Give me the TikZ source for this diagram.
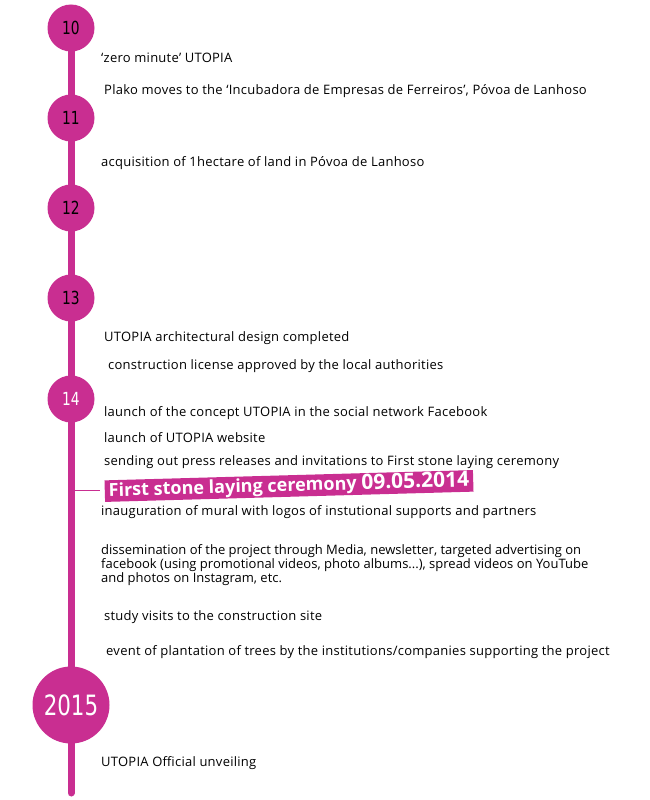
\documentclass[tikz,border=0pt]{standalone}
\usepackage{fontspec}
\setmainfont{Open Sans}
\newfontfamily\yearfont[FakeStretch=0.85]{DejaVu Sans Condensed}
\usepackage{tikz}
\usetikzlibrary{positioning}
\definecolor{utopink}{HTML}{C92E91}
\tikzset{
  yr/.style={circle,fill=utopink,minimum size=47pt,inner sep=0pt,
    font=\yearfont\fontsize{18}{18}\selectfont},
  ev/.style={anchor=west,inner sep=0pt,align=left,
    font=\fontsize{13}{14}\selectfont\addfontfeature{LetterSpace=2}}
}

\begin{document}
\begin{tikzpicture}[x=1pt,y=-1pt]
\useasboundingbox (0,0) rectangle (650,800);
\coordinate (top) at (71,28);
\coordinate (bot) at (71,793);
\coordinate (tick) at (75,490);
\draw[utopink,line width=7pt,line cap=round] (top) -- (bot);
\node[yr] (y10) at (71,28) {10};
\node[yr] (y11) at (71,118) {11};
\node[yr] (y12) at (71,208) {12};
\node[yr] (y13) at (71,298) {13};
\node[yr,text=white] (y14) at (71,399) {14};
\node[yr,text=white,minimum size=77pt,font=\yearfont\fontsize{28}{28}\selectfont] (y15) at (71,705) {2015};
\node[ev] (e1) at (101,58) {‘zero minute’ UTOPIA};
\node[ev] (e2) at (104,91) {Plako moves to the ‘Incubadora de Empresas de Ferreiros’, Póvoa de Lanhoso};
\node[ev] (e3) at (101,163) {acquisition of 1hectare of land in Póvoa de Lanhoso};
\node[ev] (e4) at (104,338) {UTOPIA architectural design completed};
\node[ev] (e5) at (108,366) {construction license approved by the local authorities};
\node[ev] (e6) at (104,413) {launch of the concept UTOPIA in the social network Facebook};
\node[ev] (e7) at (104,438) {launch of UTOPIA website};
\node[ev] (e8) at (104,462) {sending out press releases and invitations to First stone laying ceremony};
\node[fill=utopink,text=white,rotate=1.6,inner xsep=4pt,inner ysep=1pt,
  font=\bfseries\fontsize{18}{18}\selectfont] (fs) at (289,486)
  {First stone laying ceremony {\fontsize{21}{21}\selectfont 09.05.2014}};
\draw[utopink,line width=1pt,shorten >=5pt] (tick) -- (tick -| fs.west);
\node[ev] (e9) at (101,512) {inauguration of mural with logos of instutional supports and partners};
\node[ev,font=\fontsize{13}{14}\selectfont] (e10) at (101,565) {dissemination of the project through Media, newsletter, targeted advertising on\\
facebook (using promotional videos, photo albums...), spread videos on YouTube\\
and photos on Instagram, etc.};
\node[ev] (e11) at (104,617) {study visits to the construction site};
\node[ev] (e12) at (106,652) {event of plantation of trees by the institutions/companies supporting the project};
\node[ev] (e13) at (101,763) {UTOPIA Official unveiling};
\end{tikzpicture}
\end{document}
